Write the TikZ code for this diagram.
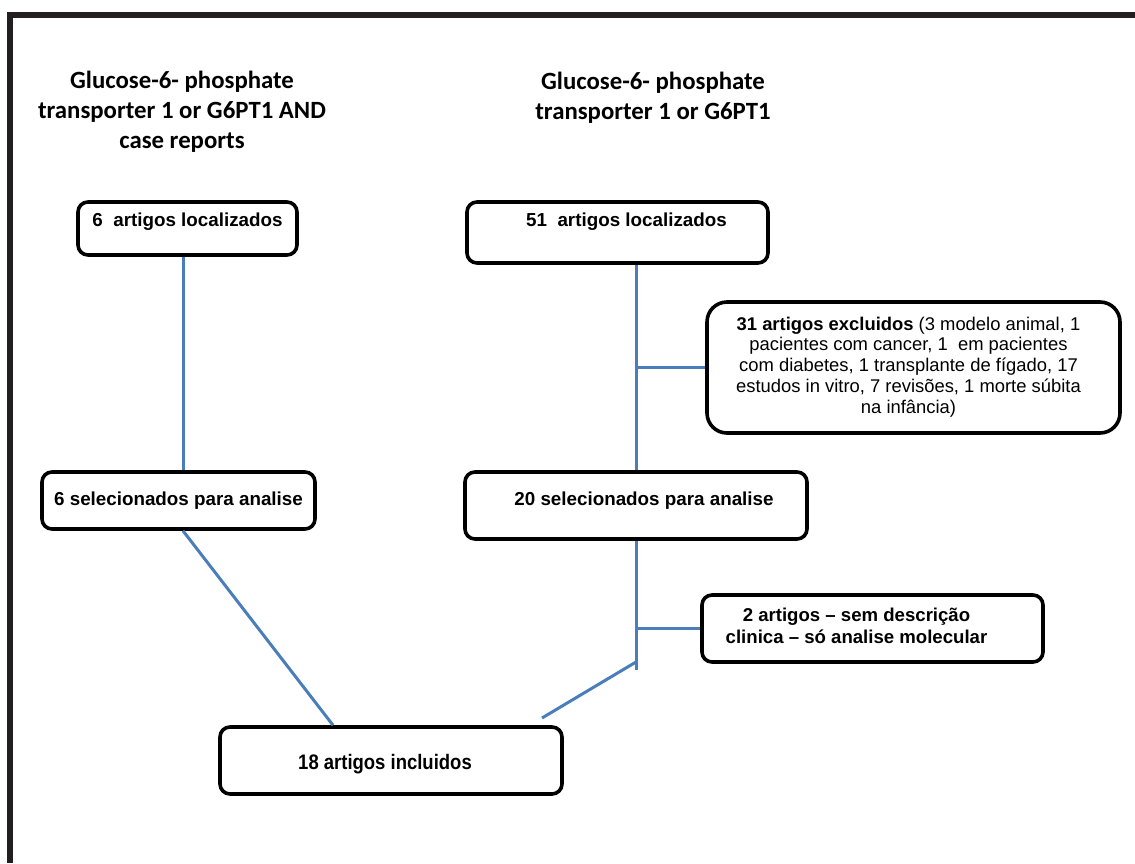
\documentclass[tikz,border=0pt]{standalone}
\usepackage{fontspec}
\setmainfont{Liberation Sans}
\newfontfamily\titlefont{Carlito}
\newfontfamily\narrowfont[FakeStretch=0.88]{Liberation Sans}
\definecolor{framecol}{HTML}{231F20}
\definecolor{linkblue}{HTML}{4A7EBB}
\tikzset{
  box/.style={draw=black, line width=1.8pt, rounded corners=5pt, fill=white,
    inner sep=0pt, font=\bfseries\fontsize{9.4}{11}\selectfont},
  bigbox/.style={box, rounded corners=10pt},
  heading/.style={align=center, inner sep=0pt,
    font=\titlefont\bfseries\fontsize{12.4}{15}\selectfont},
  link/.style={draw=linkblue, line width=1.5pt},
}
\begin{document}
\begin{tikzpicture}[x={(0.5pt,0)}, y={(0,-0.5pt)}]
\useasboundingbox (0,0) rectangle (1135,863);
% frame
\fill[framecol] (7,12) rectangle (1135,18);
\fill[framecol] (7,12) rectangle (13,863);

% headings
\node[heading] (hleft) at (182,112) {Glucose-6- phosphate\\transporter 1 or G6PT1 AND\\case reports};
\node[heading] (hright) at (653,98) {Glucose-6- phosphate\\transporter 1 or G6PT1};

% boxes
\node[box, minimum width=109.5pt, text height=12pt, text depth=14.5pt] (b6loc) at (187.5,228.5) {6\ \ artigos localizados};
\node[box, minimum width=150.5pt, text height=12pt, text depth=18.5pt] (b51) at (617.5,232.5) {\hspace*{9pt}51\ \ artigos localizados};
\node[bigbox, minimum width=206.5pt, minimum height=65.5pt, font=\fontsize{9.2}{10.35}\selectfont] (b31) at (913.5,367.5)
  {\begin{tabular}{@{}c@{}}\textbf{31 artigos excluidos} (3 modelo animal, 1\\pacientes com cancer, 1\ \ em pacientes\\com diabetes, 1 transplante de fígado, 17\\estudos in vitro, 7 revisões, 1 morte súbita\\na infância)\end{tabular}\hspace*{5pt}};
\node[box, minimum width=136.5pt, text height=16.5pt, text depth=12pt] (b6sel) at (178.5,500.5) {6 selecionados para analise};
\node[box, minimum width=171pt, text height=16.5pt, text depth=17pt] (b20) at (636,505.5) {\hspace*{8pt}20 selecionados para analise};
\node[box, minimum width=170.5pt, minimum height=33.5pt, font=\bfseries\fontsize{9.3}{11}\selectfont] (b2) at (872.5,628.5)
  {\begin{tabular}{@{}c@{}}2 artigos – sem descrição\\clinica – só analise molecular\end{tabular}\hspace*{16pt}};
\node[box, minimum width=171pt, text height=21pt, text depth=12.5pt, font=\narrowfont\bfseries\fontsize{10.5}{12}\selectfont] (b18) at (391,760.5) {18 artigos incluidos\hspace*{6pt}};

% connector positions
\coordinate (lx) at (183,0);
\coordinate (rx) at (636,0);
\coordinate (dl) at (333,0);
\coordinate (jend) at (636,670);
\coordinate (jdiag) at (636,662);
\coordinate (tip) at (542,718);

% connectors
\draw[link] (b6loc.south -| lx) -- (b6sel.north -| lx);
\draw[link] (b6sel.south -| lx) -- (b18.north -| dl);
\draw[link] (b51.south -| rx) -- (b20.north -| rx);
\draw[link] (rx |- b31.west) -- (b31.west);
\draw[link] (b20.south -| rx) -- (jend);
\draw[link] (rx |- b2.west) -- (b2.west);
\draw[link] (jdiag) -- (tip);
\end{tikzpicture}
\end{document}
